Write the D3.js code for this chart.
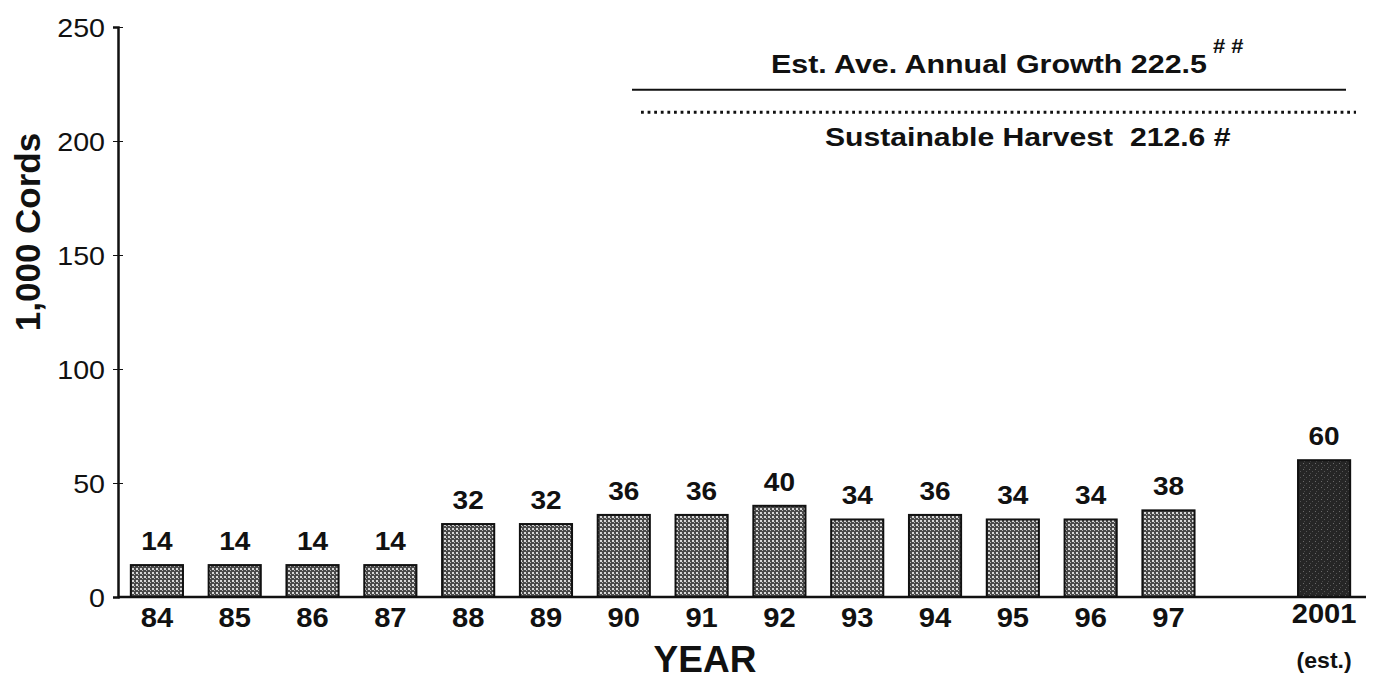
<!DOCTYPE html>
<html>
<head>
<meta charset="utf-8">
<script src="https://cdn.jsdelivr.net/npm/d3@7"></script>
<style>
  body { margin: 0; background: #fff; }
  svg { display: block; font-family: "Liberation Sans", Arial, sans-serif; }
</style>
</head>
<body>
<svg id="chart" width="1373" height="683"></svg>
<script>
// Annual harvest, thousands of cords
const years = ["84","85","86","87","88","89","90","91","92","93","94","95","96","97","gap","2001"];
const harvest = [14,14,14,14,32,32,36,36,40,34,36,34,34,38,null,60];
const estimated = ["2001"];
const yTicks = [0,50,100,150,200,250];
const growthValue = 222.5;
const sustainableValue = 212.6;

const svg = d3.select("#chart");
const ink = "#111";

const x = d3.scaleBand().domain(years).range([118, 1363]).paddingInner(0.33).paddingOuter(0.165);
const y = d3.scaleLinear().domain([0, 250]).range([597, 27]);

// Text placed at (px, py) with a slight horizontal stretch
function label(g, px, py, txt, size, opts = {}) {
  const sx = opts.sx || 1;
  const t = g.append("text")
    .attr("transform", `translate(${px},${py}) scale(${sx},1)`)
    .attr("text-anchor", opts.anchor || "middle")
    .attr("font-size", size)
    .attr("font-weight", opts.weight || "bold")
    .attr("fill", ink);
  if (txt !== null) t.text(txt);
  return t;
}

// Fill patterns for the bars
const defs = svg.append("defs");
const pat = defs.append("pattern").attr("id", "dots").attr("patternUnits", "userSpaceOnUse")
  .attr("width", 4).attr("height", 4);
pat.append("rect").attr("width", 4).attr("height", 4).attr("fill", "#4a4a4a");
pat.append("rect").attr("x", 0).attr("y", 0).attr("width", 2).attr("height", 2).attr("fill", "#d8d8d8");
pat.append("rect").attr("x", 2).attr("y", 2).attr("width", 1).attr("height", 1).attr("fill", "#bbbbbb");

const pat2 = defs.append("pattern").attr("id", "dark").attr("patternUnits", "userSpaceOnUse")
  .attr("width", 6).attr("height", 6);
pat2.append("rect").attr("width", 6).attr("height", 6).attr("fill", "#262626");
pat2.append("rect").attr("x", 1).attr("y", 1).attr("width", 1).attr("height", 1).attr("fill", "#6a6a6a");
pat2.append("rect").attr("x", 4).attr("y", 3).attr("width", 1).attr("height", 1).attr("fill", "#555");
pat2.append("rect").attr("x", 2).attr("y", 5).attr("width", 1).attr("height", 1).attr("fill", "#4a4a4a");

const data = years.map((yr, i) => ({ yr, v: harvest[i] })).filter(d => d.v !== null);

// Bars
svg.append("g").selectAll("rect").data(data).join("rect")
  .attr("x", d => x(d.yr))
  .attr("y", d => y(d.v))
  .attr("width", x.bandwidth())
  .attr("height", d => y(0) - y(d.v))
  .attr("fill", d => estimated.includes(d.yr) ? "url(#dark)" : "url(#dots)")
  .attr("stroke", ink).attr("stroke-width", 2);

// Value labels
const vl = svg.append("g");
data.forEach(d => label(vl, x(d.yr) + x.bandwidth() / 2, y(d.v) - 15, d.v, 25, { sx: 1.12 }));

// Y axis
const yAxis = svg.append("g").attr("transform", "translate(118,0)")
  .call(d3.axisLeft(y).tickValues(yTicks).tickSize(5).tickFormat(() => ""));
yAxis.select(".domain").attr("stroke", ink).attr("stroke-width", 2.5);
yAxis.selectAll(".tick line").attr("stroke", ink).attr("x2", 5).attr("x1", -5);
const yl = svg.append("g");
yTicks.forEach(t => label(yl, 105, y(t) + 9.5, t, 26.5, { anchor: "end", weight: "normal", sx: 1.08 }));

// X axis baseline
svg.append("line").attr("x1", 118).attr("x2", 1366).attr("y1", y(0)).attr("y2", y(0))
  .attr("stroke", ink).attr("stroke-width", 2.5);

// X tick labels
const xl = svg.append("g");
years.filter(d => d !== "gap").forEach(d =>
  label(xl, x(d) + x.bandwidth() / 2, estimated.includes(d) ? 623 : 627, d, 27.5, { sx: 1.06 }));

label(svg, x("2001") + x.bandwidth() / 2, 668, "(est.)", 22, { sx: 1.05 });

// Axis titles
label(svg, 705, 672, "YEAR", 37);

svg.append("text").attr("transform", "translate(40,232) rotate(-90)")
  .attr("text-anchor", "middle").attr("font-size", 35).attr("font-weight", "bold").attr("fill", ink)
  .text("1,000 Cords");

// Reference lines
svg.append("line").attr("x1", 632).attr("x2", 1346).attr("y1", y(growthValue)).attr("y2", y(growthValue))
  .attr("stroke", ink).attr("stroke-width", 2);
svg.append("line").attr("x1", 641).attr("x2", 1356).attr("y1", y(sustainableValue)).attr("y2", y(sustainableValue))
  .attr("stroke", ink).attr("stroke-width", 2.8).attr("stroke-dasharray", "2.8,3.8");

label(svg, 771, y(growthValue) - 17, "Est. Ave. Annual Growth " + growthValue, 26, { anchor: "start", sx: 1.17 });
label(svg, 1213, y(growthValue) - 37, "# #", 20, { anchor: "start", sx: 1.1 });

label(svg, 825, y(sustainableValue) + 34, null, 26, { anchor: "start", sx: 1.16 })
  .attr("xml:space", "preserve")
  .text("Sustainable Harvest  " + sustainableValue + " #");
</script>
</body>
</html>
